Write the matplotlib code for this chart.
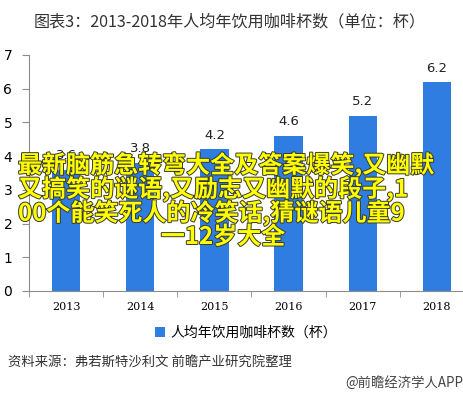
import matplotlib.pyplot as plt
import matplotlib.patheffects as pe

plt.rcParams['font.family'] = ['Noto Sans CJK SC', 'DejaVu Sans']

years = ['2013', '2014', '2015', '2016', '2017', '2018']
cups = [3.6, 3.8, 4.2, 4.6, 5.2, 6.2]
series_name = '人均年饮用咖啡杯数（杯）'
title = '图表3：2013-2018年人均年饮用咖啡杯数（单位：杯）'
source = '资料来源：弗若斯特沙利文 前瞻产业研究院整理'
brand = '@前瞻经济学人APP'
overlay = ['最新脑筋急转弯大全及答案爆笑,又幽默',
           '又搞笑的谜语,又励志又幽默的段子,1',
           '00个能笑死人的冷笑话,猜谜语儿童9',
           '一12岁大全']

bar_color = '#2f7de1'
axis_color = '#8c8c8c'

fig = plt.figure(figsize=(4.64, 3.96), dpi=100)
ax = fig.add_axes([29 / 464, 105 / 396, 445 / 464, 236 / 396])

x = list(range(len(years)))
bars = ax.bar(x, cups, width=0.38, color=bar_color, label=series_name, zorder=2)
for xi, v in zip(x, cups):
    ax.text(xi, v + 0.22, f'{v:.1f}', ha='center', va='bottom', fontsize=9.5,
            family='DejaVu Sans', color='#222222')

ax.set_xlim(-0.5, 5.5)
ax.set_ylim(0, 7)
ax.set_yticks(range(8))
ax.set_yticklabels([str(i) for i in range(8)], family='DejaVu Sans', fontsize=10)
ax.set_xticks(x)
ax.set_xticklabels(years, family='DejaVu Serif', fontsize=8)
ax.set_xticks([i - 0.5 for i in range(7)], minor=True)
ax.tick_params(axis='x', which='major', length=0, pad=8)
ax.tick_params(axis='x', which='minor', length=4, color=axis_color)
ax.tick_params(axis='y', length=5, color=axis_color, direction='out', pad=7)
for s in ['top', 'right']:
    ax.spines[s].set_visible(False)
for s in ['left', 'bottom']:
    ax.spines[s].set_color(axis_color)

fig.text(230 / 464, 1 - 22 / 396, title, ha='center', va='center',
         fontsize=11.6, color='#333333')

fig.legend(handles=[bars], labels=[series_name], loc='center',
           bbox_to_anchor=(246 / 464, 1 - 333 / 396), frameon=False,
           fontsize=10, handlelength=0.7, handleheight=0.7, handletextpad=0.4)

fig.text(8 / 464, 1 - 363 / 396, source, ha='left', va='center', fontsize=9.6,
         color='#333333')
fig.text(463 / 464, 1 - 383 / 396, brand, ha='right', va='center', fontsize=9.6,
         color='#444444')

stroke = [pe.withStroke(linewidth=1.4, foreground='#3a3a2a')]
line_y = [165, 189, 213, 237]
for i, line in enumerate(overlay):
    if i < 3:
        fig.text(18 / 464, 1 - line_y[i] / 396, line, ha='left', va='center',
                 fontsize=17.3, fontweight='bold', color='#ffff00', path_effects=stroke)
    else:
        fig.text(223 / 464, 1 - line_y[i] / 396, line, ha='center', va='center',
                 fontsize=17.3, fontweight='bold', color='#ffff00', path_effects=stroke)

fig.savefig('out.png', dpi=100)
